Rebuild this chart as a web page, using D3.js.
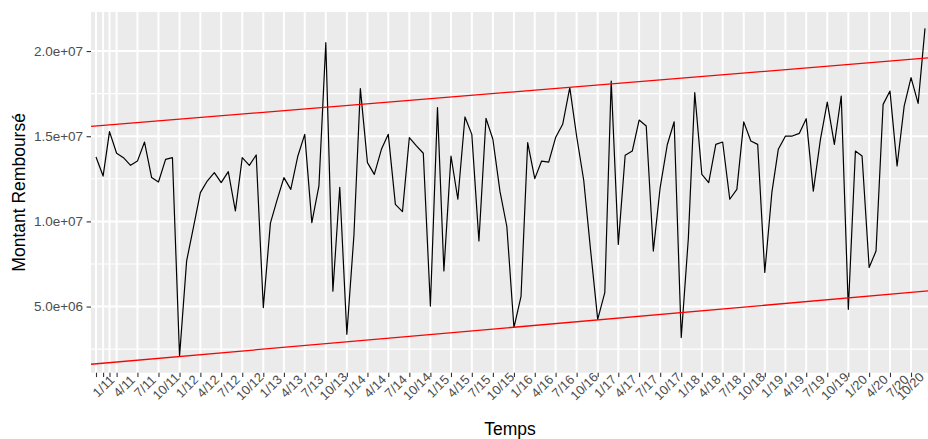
<!DOCTYPE html>
<html>
<head>
<meta charset="utf-8">
<script src="https://cdn.jsdelivr.net/npm/d3@7"></script>
<style>
  html, body { margin: 0; padding: 0; background: #ffffff; }
  svg { display: block; }
</style>
</head>
<body>
<svg id="chart" width="928" height="439"></svg>
<script>
// ---------------- DATA ----------------
const months = [
  "2011-01","2011-02","2011-03","2011-04","2011-05","2011-06","2011-07","2011-08","2011-09","2011-10","2011-11","2011-12",
  "2012-01","2012-02","2012-03","2012-04","2012-05","2012-06","2012-07","2012-08","2012-09","2012-10","2012-11","2012-12",
  "2013-01","2013-02","2013-03","2013-04","2013-05","2013-06","2013-07","2013-08","2013-09","2013-10","2013-11","2013-12",
  "2014-01","2014-02","2014-03","2014-04","2014-05","2014-06","2014-07","2014-08","2014-09","2014-10","2014-11","2014-12",
  "2015-01","2015-02","2015-03","2015-04","2015-05","2015-06","2015-07","2015-08","2015-09","2015-10","2015-11","2015-12",
  "2016-01","2016-02","2016-03","2016-04","2016-05","2016-06","2016-07","2016-08","2016-09","2016-10","2016-11","2016-12",
  "2017-01","2017-02","2017-03","2017-04","2017-05","2017-06","2017-07","2017-08","2017-09","2017-10","2017-11","2017-12",
  "2018-01","2018-02","2018-03","2018-04","2018-05","2018-06","2018-07","2018-08","2018-09","2018-10","2018-11","2018-12",
  "2019-01","2019-02","2019-03","2019-04","2019-05","2019-06","2019-07","2019-08","2019-09","2019-10","2019-11","2019-12",
  "2020-01","2020-02","2020-03","2020-04","2020-05","2020-06","2020-07","2020-08","2020-09","2020-10","2020-11","2020-12"
];

const montant = [
  13.78e6, 12.66e6, 15.27e6, 14.00e6, 13.74e6, 13.29e6, 13.54e6, 14.66e6, 12.57e6, 12.31e6, 13.64e6, 13.74e6,
   2.08e6,  7.68e6,  9.60e6, 11.69e6, 12.37e6, 12.86e6, 12.28e6, 12.92e6, 10.61e6, 13.74e6, 13.29e6, 13.90e6,
   4.94e6,  9.90e6, 11.20e6, 12.57e6, 11.88e6, 13.84e6, 15.11e6,  9.93e6, 12.08e6, 20.49e6,  5.90e6, 12.00e6,
   3.37e6,  9.20e6, 17.80e6, 13.45e6, 12.76e6, 14.23e6, 15.11e6, 11.00e6, 10.57e6, 14.92e6, 14.43e6, 14.00e6,
   5.03e6, 16.68e6,  7.09e6, 13.84e6, 11.30e6, 16.13e6, 15.11e6,  8.85e6, 16.05e6, 14.82e6, 11.76e6,  9.70e6,
   3.77e6,  5.60e6, 14.62e6, 12.51e6, 13.54e6, 13.48e6, 14.92e6, 15.70e6, 17.85e6, 15.00e6, 12.40e6,  8.30e6,
   4.25e6,  5.82e6, 18.24e6,  8.65e6, 13.88e6, 14.13e6, 15.95e6, 15.60e6,  8.26e6, 12.00e6, 14.50e6, 15.85e6,
   3.18e6,  9.00e6, 17.56e6, 12.76e6, 12.28e6, 14.52e6, 14.66e6, 11.30e6, 11.88e6, 15.84e6, 14.72e6, 14.52e6,
   7.00e6, 11.70e6, 14.23e6, 15.00e6, 15.01e6, 15.17e6, 16.03e6, 11.78e6, 14.80e6, 17.00e6, 14.52e6, 17.36e6,
   4.84e6, 14.13e6, 13.84e6,  7.29e6,  8.26e6, 16.87e6, 17.65e6, 13.25e6, 16.77e6, 18.44e6, 16.93e6, 21.33e6
];

// red band lines (values at first and last month)
const bandMonths = ["2011-01", "2020-12"];
const upperBand  = [15.60e6, 19.58e6];
const lowerBand  = [1.64e6, 5.90e6];

// x ticks
const xTickMonths = ["2011-01","2011-02","2011-03","2011-04","2011-07","2011-10",
  "2012-01","2012-04","2012-07","2012-10","2013-01","2013-04","2013-07","2013-10",
  "2014-01","2014-04","2014-07","2014-10","2015-01","2015-04","2015-07","2015-10",
  "2016-01","2016-04","2016-07","2016-10","2017-01","2017-04","2017-07","2017-10",
  "2018-01","2018-04","2018-07","2018-10","2019-01","2019-04","2019-07","2019-10",
  "2020-01","2020-04","2020-07","2020-10"];
const xTickLabels = ["1/11","","","4/11","7/11","10/11",
  "1/12","4/12","7/12","10/12","1/13","4/13","7/13","10/13",
  "1/14","4/14","7/14","10/14","1/15","4/15","7/15","10/15",
  "1/16","4/16","7/16","10/16","1/17","4/17","7/17","10/17",
  "1/18","4/18","7/18","10/18","1/19","4/19","7/19","10/19",
  "1/20","4/20","7/20","10/20"];

// y ticks
const yTicks = [5e6, 1e7, 1.5e7, 2e7];
const yTickLabels = ["5.0e+06", "1.0e+07", "1.5e+07", "2.0e+07"];
const yMinor = [2.5e6, 7.5e6, 1.25e7, 1.75e7];

const xTitle = "Temps";
const yTitle = "Montant Remboursé";

// ---------------- LAYOUT ----------------
const W = 928;
const panel = { left: 91, right: 929, top: 12, bottom: 372.7 };
const FONT = "'Liberation Sans', Arial, Helvetica, sans-serif";

const parse = d3.timeParse("%Y-%m");
const data = months.map((m, i) => ({ date: parse(m), value: montant[i] }));

const x = d3.scaleTime()
  .domain([parse(months[0]), parse(months[months.length - 1])])
  .range([96, 925]);

const ext = d3.extent(montant);
const pad = (ext[1] - ext[0]) * 0.05;
const y = d3.scaleLinear()
  .domain([ext[0] - pad, ext[1] + pad])
  .range([panel.bottom, panel.top]);

const svg = d3.select("#chart");

svg.append("defs").append("clipPath").attr("id", "clip")
  .append("rect")
  .attr("x", panel.left).attr("y", panel.top)
  .attr("width", panel.right - panel.left)
  .attr("height", panel.bottom - panel.top);

// panel background
svg.append("rect")
  .attr("x", panel.left).attr("y", panel.top)
  .attr("width", panel.right - panel.left)
  .attr("height", panel.bottom - panel.top)
  .attr("fill", "#EBEBEB");

const grid = svg.append("g");
// minor horizontal
grid.selectAll(".hminor").data(yMinor).join("line")
  .attr("x1", panel.left).attr("x2", panel.right)
  .attr("y1", d => y(d)).attr("y2", d => y(d))
  .attr("stroke", "#ffffff").attr("stroke-width", 1.1);
// major horizontal
grid.selectAll(".hmajor").data(yTicks).join("line")
  .attr("x1", panel.left).attr("x2", panel.right)
  .attr("y1", d => y(d)).attr("y2", d => y(d))
  .attr("stroke", "#ffffff").attr("stroke-width", 2);
// major vertical
grid.selectAll(".vmajor").data(xTickMonths.map(parse)).join("line")
  .attr("x1", d => x(d)).attr("x2", d => x(d))
  .attr("y1", panel.top).attr("y2", panel.bottom)
  .attr("stroke", "#ffffff").attr("stroke-width", 2);

const plot = svg.append("g").attr("clip-path", "url(#clip)");

// data line
plot.append("path")
  .datum(data)
  .attr("fill", "none")
  .attr("stroke", "#000000")
  .attr("stroke-width", 1.2)
  .attr("stroke-linejoin", "round")
  .attr("d", d3.line().x(d => x(d.date)).y(d => y(d.value)));

// band lines extended to panel edges
const edgeDates = [x.invert(panel.left), x.invert(panel.right)];
[upperBand, lowerBand].forEach(band => {
  const bandScale = d3.scaleTime().domain(bandMonths.map(parse)).range(band);
  plot.append("path")
    .datum(edgeDates)
    .attr("fill", "none")
    .attr("stroke", "#FF0000")
    .attr("stroke-width", 1.3)
    .attr("d", d3.line().x(d => x(d)).y(d => y(bandScale(d))));
});

// y axis
const yAxis = svg.append("g")
  .attr("transform", `translate(${panel.left},0)`)
  .call(d3.axisLeft(y).tickValues(yTicks)
    .tickFormat((d, i) => yTickLabels[i]).tickSize(4.4).tickPadding(3.5));
yAxis.select(".domain").remove();
yAxis.selectAll(".tick line").attr("stroke", "#333333").attr("stroke-width", 1.1);
yAxis.selectAll(".tick text")
  .attr("fill", "#4D4D4D")
  .style("font-family", FONT)
  .style("font-size", "13.5px");

// x axis
const xAxis = svg.append("g")
  .attr("transform", `translate(0,${panel.bottom})`)
  .call(d3.axisBottom(x).tickValues(xTickMonths.map(parse))
    .tickFormat((d, i) => xTickLabels[i]).tickSize(4.4));
xAxis.select(".domain").remove();
xAxis.selectAll(".tick line").attr("stroke", "#333333").attr("stroke-width", 1.1);
xAxis.selectAll(".tick text")
  .attr("y", 0)
  .attr("dy", "0.35em")
  .attr("text-anchor", "middle")
  .attr("transform", "translate(7,13.5) rotate(-45)")
  .attr("fill", "#4D4D4D")
  .style("font-family", FONT)
  .style("font-size", "13px");
// keep labels inside the picture: nudge any that would cross the right edge
xAxis.selectAll(".tick").each(function(d) {
  const t = d3.select(this).select("text");
  const bb = this.querySelector("text").getBoundingClientRect();
  if (bb.right > W - 1) {
    const shift = bb.right - (W - 1);
    t.attr("transform", `translate(${7 - shift},13.5) rotate(-45)`);
  }
});

// titles
svg.append("text")
  .attr("x", (panel.left + panel.right) / 2)
  .attr("y", 434.5)
  .attr("text-anchor", "middle")
  .attr("fill", "#000000")
  .style("font-family", FONT)
  .style("font-size", "17.5px")
  .text(xTitle);

svg.append("text")
  .attr("transform", `translate(25,${(panel.top + panel.bottom) / 2}) rotate(-90)`)
  .attr("text-anchor", "middle")
  .attr("fill", "#000000")
  .style("font-family", FONT)
  .style("font-size", "17.5px")
  .text(yTitle);
</script>
</body>
</html>
